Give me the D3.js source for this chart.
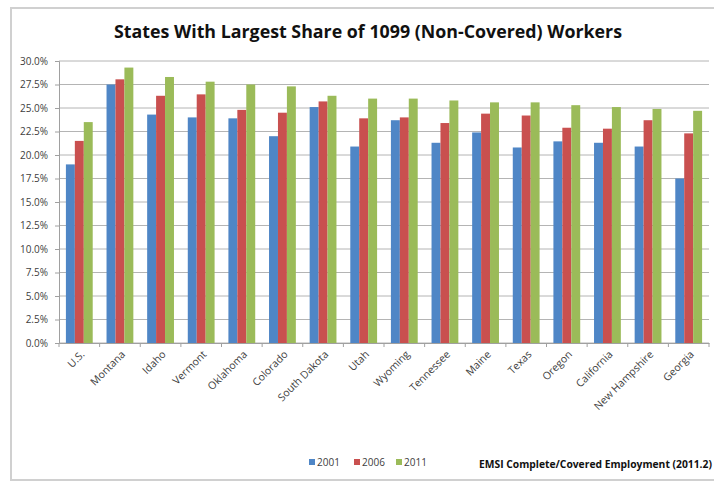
<!DOCTYPE html>
<html><head><meta charset="utf-8">
<script src="https://cdn.jsdelivr.net/npm/d3@7"></script>
<style>body{margin:0;background:#fff;overflow:hidden}svg{display:block}</style>
</head><body>
<svg id="c" width="714" height="481"></svg>
<script>
const categories = ["U.S.","Montana","Idaho","Vermont","Oklahoma","Colorado","South Dakota","Utah","Wyoming","Tennessee","Maine","Texas","Oregon","California","New Hampshire","Georgia"];
const years = ["2001","2006","2011"];
const v2001 = [19.0,27.5,24.3,24.0,23.9,22.0,25.1,20.9,23.7,21.3,22.4,20.8,21.45,21.3,20.9,17.5];
const v2006 = [21.5,28.05,26.3,26.45,24.8,24.5,25.7,23.9,24.0,23.4,24.4,24.2,22.9,22.8,23.7,22.3];
const v2011 = [23.5,29.3,28.3,27.8,27.5,27.3,26.3,26.0,26.0,25.8,25.6,25.6,25.3,25.1,24.9,24.7];
const yTicks = [0,2.5,5,7.5,10,12.5,15,17.5,20,22.5,25,27.5,30];
const series = [v2001, v2006, v2011];
const colors = ["#4F86C6","#C9504F","#9BBB59"];

const svg = d3.select("#c");
// frame
svg.append("rect").attr("x",11).attr("y",8).attr("width",710).attr("height",472)
  .attr("fill","none").attr("stroke","#d0d0d0").attr("stroke-width",2);

const L=59, R=709, T=61, B=343;
const x = d3.scaleBand().domain(categories).range([L,R]).paddingInner(0.34).paddingOuter(0.17);
const xs = d3.scaleBand().domain(years).range([0,x.bandwidth()]);
const y = d3.scaleLinear().domain([0,30]).range([B,T]);

// gridlines
svg.append("g").selectAll("line").data(yTicks).join("line")
  .attr("x1",L).attr("x2",R).attr("y1",d=>y(d)).attr("y2",d=>y(d))
  .attr("stroke","#b4b4b4").attr("stroke-width",1);

// y axis
const ya = svg.append("g").attr("transform",`translate(${L},0)`)
  .call(d3.axisLeft(y).tickValues(yTicks).tickFormat(d=>d.toFixed(1)+"%").tickSize(4).tickPadding(7));
ya.select(".domain").attr("stroke","#a0a0a0");
ya.selectAll(".tick line").attr("stroke","#a0a0a0");
ya.selectAll("text").attr("font-family","Open Sans, sans-serif").attr("font-size","10px").attr("fill","#404040");

// bars
const g = svg.append("g");
series.forEach((s,i)=>{
  g.append("g").selectAll("rect").data(categories).join("rect")
    .attr("x",(c)=>x(c)+xs(years[i]))
    .attr("width",xs.bandwidth())
    .attr("y",(c,j)=>y(s[j]))
    .attr("height",(c,j)=>y(0)-y(s[j]))
    .attr("fill",colors[i]);
});

// x axis
const xa = svg.append("g").attr("transform",`translate(0,${B})`)
  .call(d3.axisBottom(x).tickSize(0).tickPadding(0).tickFormat(d=>d));
xa.select(".domain").attr("stroke","#a0a0a0");
// boundary ticks
svg.append("g").selectAll("line").data(d3.range(categories.length+1)).join("line")
  .attr("x1",i=>L+i*x.step()).attr("x2",i=>L+i*x.step()).attr("y1",B).attr("y2",B+4)
  .attr("stroke","#a0a0a0");
xa.selectAll(".tick text")
  .attr("font-family","Open Sans, sans-serif").attr("font-size","10.5px").attr("fill","#404040")
  .attr("text-anchor","end").attr("dy",null).attr("y",0)
  .attr("transform","translate(6,12) rotate(-45)");

// title
svg.append("text").attr("x",368).attr("y",38).attr("text-anchor","middle")
  .attr("font-family","Open Sans, sans-serif").attr("font-weight","bold").attr("font-size","17px")
  .attr("fill","#111").attr("textLength",508).attr("lengthAdjust","spacingAndGlyphs")
  .text("States With Largest Share of 1099 (Non-Covered) Workers");

// legend
const lx=[309,354,396];
years.forEach((yr,i)=>{
  svg.append("rect").attr("x",lx[i]).attr("y",459).attr("width",6).attr("height",6).attr("fill",colors[i]);
  svg.append("text").attr("x",lx[i]+8).attr("y",466).attr("font-family","Open Sans, sans-serif")
    .attr("font-size","10px").attr("fill","#404040").text(yr);
});

// source
svg.append("text").attr("x",479).attr("y",468).attr("font-family","Open Sans, sans-serif")
  .attr("font-weight","bold").attr("font-size","10.3px").attr("fill","#111")
  .text("EMSI Complete/Covered Employment (2011.2)");
</script>
</body></html>
